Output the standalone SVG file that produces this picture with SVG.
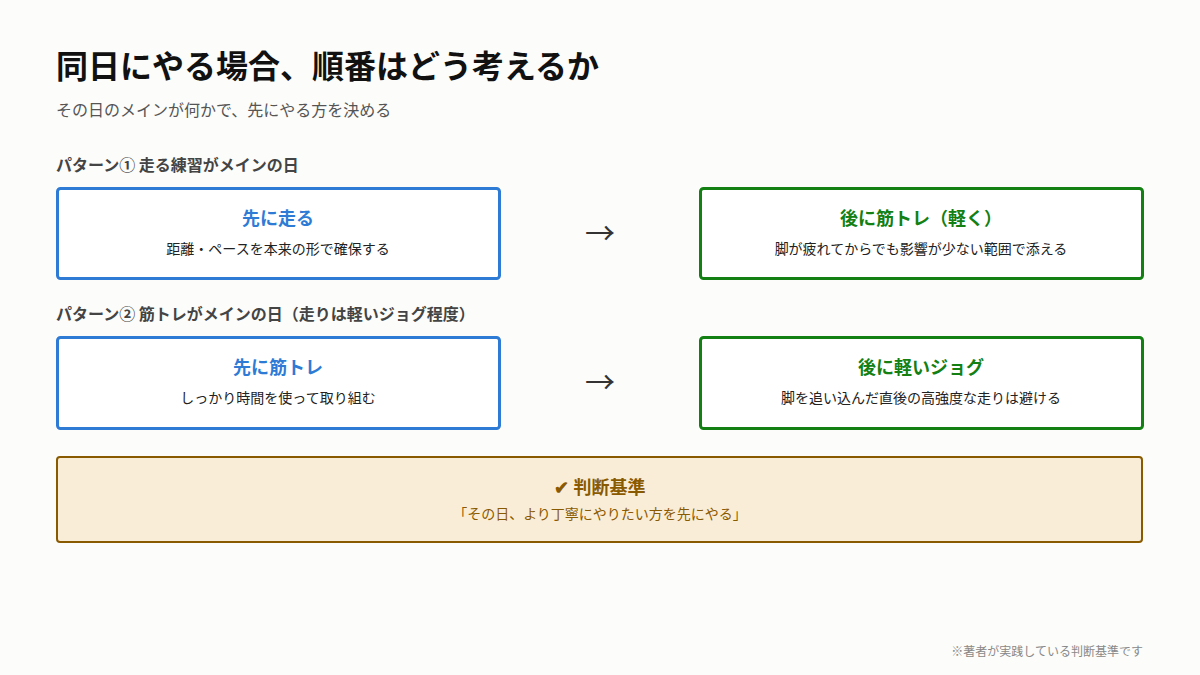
<svg xmlns="http://www.w3.org/2000/svg" width="1200" height="675" viewBox="0 0 1200 675">
<style>
text{font-family:"Noto Sans CJK JP","Noto Sans",sans-serif}
.bb{fill:#fff;stroke:#2e7bd6;stroke-width:3}
.gb{fill:#fff;stroke:#138013;stroke-width:3}
.bt{fill:#2e7bd6;font-size:18px;font-weight:bold}
.gt{fill:#138013;font-size:18px;font-weight:bold}
.st{fill:#222;font-size:14px}
.sec{fill:#444;font-size:16px;font-weight:bold}
.arr{fill:#333;font-size:30px}
</style>
<rect width="1200" height="675" fill="#fcfcfa"/>
<text x="56" y="78" font-size="32" font-weight="bold" fill="#111">同日にやる場合、順番はどう考えるか</text>
<text x="56" y="116" font-size="16" fill="#555">その日のメインが何かで、先にやる方を決める</text>
<text class="sec" x="56" y="171">パターン① 走る練習がメインの日</text>
<text class="sec" x="56" y="320">パターン② 筋トレがメインの日（走りは軽いジョグ程度）</text>
<g id="n1"><rect class="bb" x="57.5" y="188.5" width="442" height="90" rx="3"/><text class="bt" x="278" y="225" text-anchor="middle">先に走る</text><text class="st" x="278" y="254" text-anchor="middle">距離・ペースを本来の形で確保する</text></g>
<g id="n2"><rect class="gb" x="700.5" y="188.5" width="442" height="90" rx="3"/><text class="gt" x="921" y="225" text-anchor="middle">後に筋トレ（軽く）</text><text class="st" x="921" y="254" text-anchor="middle">脚が疲れてからでも影響が少ない範囲で添える</text></g>
<g id="n3"><rect class="bb" x="57.5" y="337.5" width="442" height="91" rx="3"/><text class="bt" x="278" y="374" text-anchor="middle">先に筋トレ</text><text class="st" x="278" y="403" text-anchor="middle">しっかり時間を使って取り組む</text></g>
<g id="n4"><rect class="gb" x="700.5" y="337.5" width="442" height="91" rx="3"/><text class="gt" x="921" y="374" text-anchor="middle">後に軽いジョグ</text><text class="st" x="921" y="403" text-anchor="middle">脚を追い込んだ直後の高強度な走りは避ける</text></g>
<g id="connectors"><text class="arr" x="600" y="244" text-anchor="middle">→</text><text class="arr" x="600" y="393" text-anchor="middle">→</text></g>
<g id="n5"><rect x="57" y="457" width="1085" height="85" rx="3" fill="#faedd8" stroke="#8a5a00" stroke-width="2"/><text x="600" y="494" text-anchor="middle" font-size="18" font-weight="bold" fill="#8a5a00">✔ 判断基準</text><text x="600" y="519" text-anchor="middle" font-size="14" fill="#8a5a00">「その日、より丁寧にやりたい方を先にやる」</text></g>
<text x="1143" y="656" text-anchor="end" font-size="12" fill="#888">※著者が実践している判断基準です</text>
</svg>
